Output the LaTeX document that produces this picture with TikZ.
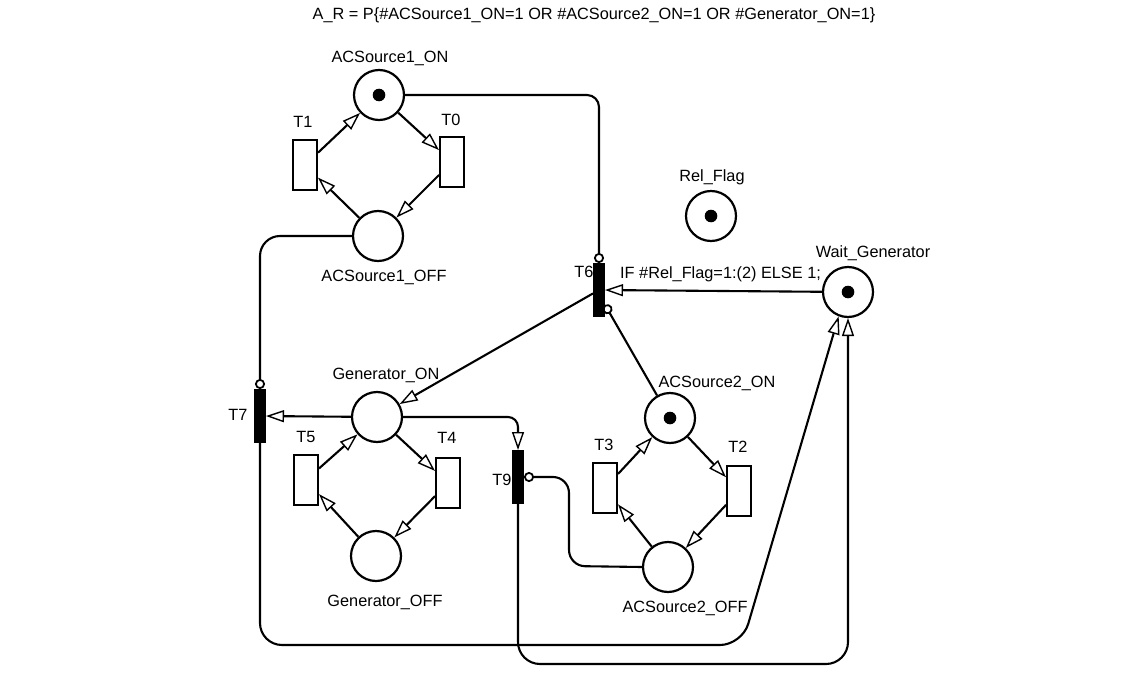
\documentclass[tikz,border=0pt]{standalone}
\usepackage{fontspec}
\setmainfont{Liberation Sans}
\usepackage{tikz}
\usetikzlibrary{arrows.meta}

\tikzset{
  place/.style={circle, draw, line width=2.2pt, minimum size=50pt, inner sep=0pt},
  trans/.style={rectangle, draw, line width=2pt, minimum width=24pt, minimum height=50pt, inner sep=0pt},
  bar/.style={rectangle, draw, fill=black, line width=1pt, minimum width=11pt, minimum height=53pt, inner sep=0pt},
  arc/.style={line width=2.1pt, -{Triangle[open, length=18pt, width=12pt, line width=1.4pt]}},
  inh/.style={line width=2.1pt, -{Circle[open, length=10pt, line width=1.8pt]}},
  txt/.style={inner sep=0pt}
}

\begin{document}
\begin{tikzpicture}[x=1pt,y=-1pt,font=\fontsize{16.3}{19}\selectfont]
\useasboundingbox (0,0) rectangle (1143,677);
\node[txt] (title) at (594,15) {A\_R = P\{\#ACSource1\_ON=1 OR \#ACSource2\_ON=1 OR \#Generator\_ON=1\}};
% places
\node[place] (ACS1on) at (379,95) {};
\node[place] (ACS1off) at (378,236) {};
\node[place] (GenON) at (377,417) {};
\node[place] (GenOFF) at (376,556) {};
\node[place] (ACS2on) at (670,418) {};
\node[place] (ACS2off) at (668,567) {};
\node[place] (RelFlag) at (711,216) {};
\node[place] (WaitGen) at (848,292) {};
\foreach \p in {ACS1on,ACS2on,RelFlag,WaitGen}
  \fill (\p.center) circle[radius=6.3];
\node[txt] (lACS1on) at (390,58) {ACSource1\_ON};
\node[txt] (lACS1off) at (384,277) {ACSource1\_OFF};
\node[txt] (lGenON) at (386,375) {Generator\_ON};
\node[txt] (lGenOFF) at (385,602) {Generator\_OFF};
\node[txt] (lACS2on) at (717,383) {ACSource2\_ON};
\node[txt] (lACS2off) at (685,608) {ACSource2\_OFF};
\node[txt] (lRelFlag) at (712,177) {Rel\_Flag};
\node[txt] (lWaitGen) at (873,253) {Wait\_Generator};
% transitions
\node[trans] (T1) at (305,165) {};
\node[trans] (T0) at (452,162) {};
\node[trans] (T5) at (306,480) {};
\node[trans] (T4) at (448,483) {};
\node[trans] (T3) at (605,488) {};
\node[trans] (T2) at (739,491) {};
\node[bar] (T6) at (599,290) {};
\node[bar] (T7) at (260,416) {};
\node[bar] (T9) at (518,477) {};
\node[txt] (lT1) at (303,122) {T1};
\node[txt] (lT0) at (451,120) {T0};
\node[txt] (lT5) at (306,437) {T5};
\node[txt] (lT4) at (447,438) {T4};
\node[txt] (lT3) at (604,445) {T3};
\node[txt] (lT2) at (738,447) {T2};
\node[txt] (lT6) at (584,272) {T6};
\node[txt] (lT7) at (238,415) {T7};
\node[txt] (lT9) at (502,480) {T9};
% cycles
\draw[arc] (T1) -- (ACS1on);
\draw[arc] (ACS1on) -- (T0);
\draw[arc] (T0) -- (ACS1off);
\draw[arc] (ACS1off) -- (T1);
\draw[arc] (T5) -- (GenON);
\draw[arc] (GenON) -- (T4);
\draw[arc] (T4) -- (GenOFF);
\draw[arc] (GenOFF) -- (T5);
\draw[arc] (T3) -- (ACS2on);
\draw[arc] (ACS2on) -- (T2);
\draw[arc] (T2) -- (ACS2off);
\draw[arc] (ACS2off) -- (T3);
% switching arcs
\draw[inh, rounded corners=12pt] (ACS1on.east) -| (T6.north);
\draw[inh] (ACS2on) -- (T6.-68);
\draw[arc] (WaitGen) -- (T6);
\node[txt, anchor=west] (guard) at (620,274) {IF \#Rel\_Flag=1:(2) ELSE 1;};
\draw[arc] (T6) -- (GenON);
\draw[inh, rounded corners=20pt] (ACS1off.west) -| (T7.north);
\draw[arc] (GenON) -- (T7);
\draw[arc, rounded corners=10pt] (GenON.east) -| (T9.north);
\draw[inh, rounded corners=16pt] (ACS2off.west) -- (569,566) -- (569,477) -- (T9.east);
\draw[arc, rounded corners=22pt] (T7.south) |- (742,645) -- (WaitGen.-111);
\draw[arc, rounded corners=22pt] (T9.south) |- (WaitGen.south |- 0,664) -- (WaitGen.south);
\end{tikzpicture}
\end{document}
